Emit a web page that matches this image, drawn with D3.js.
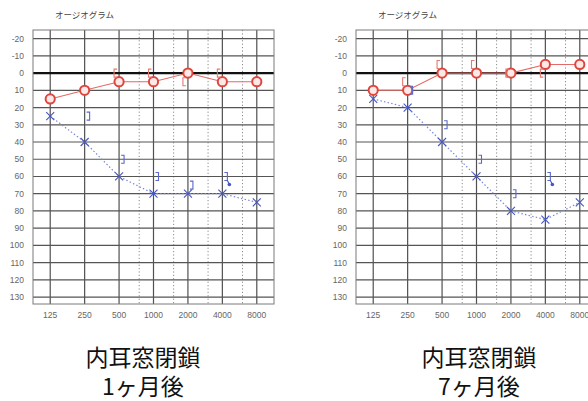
<!DOCTYPE html>
<html>
<head>
<meta charset="utf-8">
<script src="https://cdn.jsdelivr.net/npm/d3@7"></script>
<style>
  html, body { margin: 0; padding: 0; background: #fff; }
  svg { display: block; }
</style>
</head>
<body>
<svg id="chart" width="588" height="401"></svg>
<script>
// Audiogram axes
const freqs = [125, 250, 500, 1000, 2000, 4000, 8000];
const freqLabels = ["125", "250", "500", "1000", "2000", "4000", "8000"];
const halfFreqs = [750, 1500, 3000, 6000];
const dbTicks = [-20, -10, 0, 10, 20, 30, 40, 50, 60, 70, 80, 90, 100, 110, 120, 130];

// 1 month after: air conduction per frequency (dB HL)
const rightAir1 = [15, 10, 5, 5, 0, 5, 5];
const leftAir1 = [25, 40, 60, 70, 70, 70, 75];
// bone conduction [frequency, dB]
const rightBone1 = [[500, 0], [1000, 0], [2000, 5], [4000, 0]];
const leftBone1 = [[250, 25], [500, 50], [1000, 60], [2000, 65], [4000, 60]];
const leftBoneNoResp1 = [4000];

// 7 months after
const rightAir7 = [10, 10, 0, 0, 0, -5, -5];
const leftAir7 = [15, 20, 40, 60, 80, 85, 75];
const rightBone7 = [[250, 5], [500, -5], [1000, -5], [2000, 0], [4000, 0]];
const leftBone7 = [[250, 10], [500, 30], [1000, 50], [2000, 70], [4000, 60]];
const leftBoneNoResp7 = [4000];

const chartTitle = "オージオグラム";
const captions1 = ["内耳窓閉鎖", "1ヶ月後"];
const captions7 = ["内耳窓閉鎖", "7ヶ月後"];

const svg = d3.select("#chart");
const W = 241, H = 274;

const x = d3.scaleLog().base(2)
  .domain([125 / Math.SQRT2, 8000 * Math.SQRT2])
  .range([0, W]);
const y = d3.scaleLinear().domain([-25, 134]).range([0, H]);

const RED = "#e0453d", RED_LINE = "#e36a66", RED_BR = "#e47a72";
const BLUE = "#4656c4", BLUE_LINE = "#7b88d6", BLUE_BR = "#5a68cc";

function drawPanel(left, top, d) {
  const g = svg.append("g").attr("transform", `translate(${left},${top})`);

  // title
  svg.append("text")
    .attr("x", left + 22).attr("y", 18)
    .attr("font-family", "Noto Sans CJK JP, sans-serif")
    .attr("font-size", 8.5).attr("fill", "#444")
    .text(chartTitle);

  // half-octave dotted verticals
  g.selectAll("line.half").data(halfFreqs).join("line")
    .attr("x1", f => x(f)).attr("x2", f => x(f))
    .attr("y1", 0).attr("y2", H)
    .attr("stroke", "#8a8a8a").attr("stroke-width", 1)
    .attr("stroke-dasharray", "1.2,2.2");

  // octave verticals
  g.selectAll("line.oct").data(freqs).join("line")
    .attr("x1", f => x(f)).attr("x2", f => x(f))
    .attr("y1", 0).attr("y2", H)
    .attr("stroke", "#505050").attr("stroke-width", 1.2);

  // horizontal grid
  g.selectAll("line.h").data(dbTicks).join("line")
    .attr("x1", 0).attr("x2", W)
    .attr("y1", v => y(v)).attr("y2", v => y(v))
    .attr("stroke", v => v === 0 ? "#111" : "#555")
    .attr("stroke-width", v => v === 0 ? 2.2 : 1.2);

  // frame
  g.append("rect").attr("x", 0).attr("y", 0).attr("width", W).attr("height", H)
    .attr("fill", "none").attr("stroke", "#7a7a7a").attr("stroke-width", 1);

  // axes labels
  g.selectAll("text.yl").data(dbTicks).join("text")
    .attr("x", -9).attr("y", v => y(v)).attr("dy", "0.35em")
    .attr("text-anchor", "end")
    .attr("font-family", "Liberation Sans Narrow, Liberation Sans, sans-serif")
    .attr("font-size", 8.5).attr("fill", "#666")
    .text(v => v);
  g.selectAll("text.xl").data(freqs).join("text")
    .attr("x", f => x(f)).attr("y", H + 11).attr("dy", "0.35em")
    .attr("text-anchor", "middle")
    .attr("font-family", "Liberation Sans Narrow, Liberation Sans, sans-serif")
    .attr("font-size", 8.5).attr("fill", "#666")
    .text((f, i) => freqLabels[i]);

  // left ear air conduction: dotted line + crosses
  const lineGen = d3.line().x(p => x(p[0])).y(p => y(p[1]));
  const leftPts = freqs.map((f, i) => [f, d.leftAir[i]]);
  g.append("path").datum(leftPts).attr("d", lineGen)
    .attr("fill", "none").attr("stroke", BLUE_LINE).attr("stroke-width", 1.2)
    .attr("stroke-dasharray", "1.5,2.2");
  const s = 4;
  g.selectAll("path.x").data(leftPts).join("path")
    .attr("d", p => {
      const cx = x(p[0]), cy = y(p[1]);
      return `M${cx - s},${cy - s}L${cx + s},${cy + s}M${cx - s},${cy + s}L${cx + s},${cy - s}`;
    })
    .attr("stroke", BLUE).attr("stroke-width", 1.1).attr("fill", "none");

  // right ear air conduction: solid line + circles
  const rightPts = freqs.map((f, i) => [f, d.rightAir[i]]);
  g.append("path").datum(rightPts).attr("d", lineGen)
    .attr("fill", "none").attr("stroke", RED_LINE).attr("stroke-width", 1.1);
  g.selectAll("circle.o").data(rightPts).join("circle")
    .attr("cx", p => x(p[0])).attr("cy", p => y(p[1])).attr("r", 4.6)
    .attr("fill", "#fbe9e7").attr("stroke", RED).attr("stroke-width", 2);

  // left ear bone conduction "]"
  g.selectAll("path.lb").data(d.leftBone).join("path")
    .attr("d", p => {
      const cx = x(p[0]) + 5, cy = y(p[1]);
      return `M${cx - 3},${cy - 4}H${cx}V${cy + 4}H${cx - 3}`;
    })
    .attr("stroke", BLUE_BR).attr("stroke-width", 1.1).attr("fill", "none");
  // no-response arrow
  const nr = d.leftBone.filter(p => d.noResp.includes(p[0]));
  g.selectAll("path.nr").data(nr).join("path")
    .attr("d", p => {
      const cx = x(p[0]) + 5, cy = y(p[1]);
      return `M${cx},${cy + 4}L${cx + 2},${cy + 8}`;
    })
    .attr("stroke", BLUE).attr("stroke-width", 1.1);
  g.selectAll("circle.nr").data(nr).join("circle")
    .attr("cx", p => x(p[0]) + 7).attr("cy", p => y(p[1]) + 8).attr("r", 1.8)
    .attr("fill", BLUE);

  // right ear bone conduction "["
  g.selectAll("path.rb").data(d.rightBone).join("path")
    .attr("d", p => {
      const cx = x(p[0]) - 5, cy = y(p[1]);
      return `M${cx + 3},${cy - 4}H${cx}V${cy + 4}H${cx + 3}`;
    })
    .attr("stroke", RED_BR).attr("stroke-width", 1.1).attr("fill", "none");
}

function drawCaption(cx, lines) {
  svg.selectAll(null).data(lines).join("text")
    .attr("x", cx).attr("y", (l, i) => 366 + i * 29)
    .attr("text-anchor", "middle")
    .attr("font-family", "Noto Sans CJK JP, sans-serif")
    .attr("font-size", 23).attr("fill", "#111")
    .text(l => l);
}

drawPanel(33, 30, { rightAir: rightAir1, leftAir: leftAir1, rightBone: rightBone1, leftBone: leftBone1, noResp: leftBoneNoResp1 });
drawPanel(356, 30, { rightAir: rightAir7, leftAir: leftAir7, rightBone: rightBone7, leftBone: leftBone7, noResp: leftBoneNoResp7 });
drawCaption(143, captions1);
drawCaption(479, captions7);
</script>
</body>
</html>
